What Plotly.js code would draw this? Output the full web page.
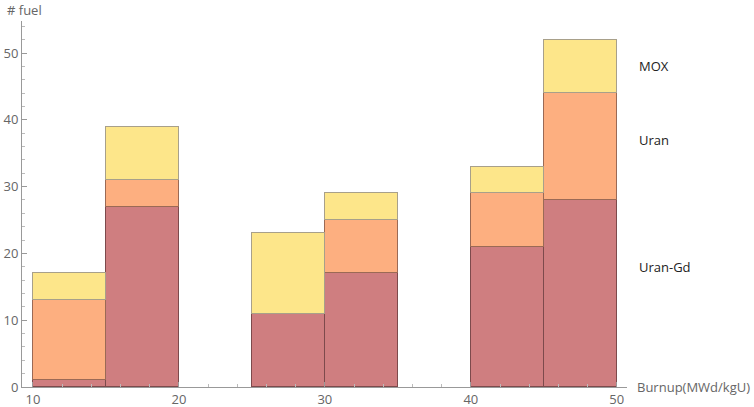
<!DOCTYPE html>
<html>
<head>
<meta charset="utf-8">
<script src="https://cdn.plot.ly/plotly-3.0.1.min.js"></script>
<style>html,body{margin:0;padding:0;background:#fff}</style>
</head>
<body>
<div id="chart" style="width:754px;height:407px"></div>
<script>
// bin centres (width 5), empty bins left out
const bins = [12.5, 17.5, 27.5, 32.5, 42.5, 47.5];
const uranGd = [1, 27, 11, 17, 21, 28];
const uran = [12, 4, 0, 8, 8, 16];
const mox = [4, 8, 12, 4, 4, 8];

const font = 'Open Sans, Noto Sans, sans-serif';

const bar = (y, fill, edge) => ({
    type: 'bar',
    x: bins,
    y: y,
    width: 5,
    marker: {color: fill, line: {color: edge, width: 1}},
    hoverinfo: 'x+y',
    showlegend: false,
});

const traces = [
    bar(uranGd, '#cf7e80', '#7d4a4c'),
    bar(uran, '#fdaf80', '#9b6a55'),
    bar(mox, '#fde68a', '#a8a08a'),
];

const layout = {
    barmode: 'stack',
    bargap: 0,
    margin: {l: 22, r: 127, t: 21, b: 20},
    paper_bgcolor: '#fff',
    plot_bgcolor: '#fff',
    font: {family: font, size: 13, color: '#555'},
    xaxis: {
        range: [9.25, 50.7],
        tickvals: [10, 20, 30, 40, 50],
        ticks: 'inside', ticklen: 5, tickcolor: '#999',
        minor: {dtick: 2, tick0: 10, ticks: 'inside', ticklen: 3, tickcolor: '#bbb'},
        showline: true, linecolor: '#999', linewidth: 1,
        showgrid: false, zeroline: false,
        tickfont: {size: 13, color: '#666'},
    },
    yaxis: {
        range: [0, 54.8],
        dtick: 10,
        ticks: 'inside', ticklen: 5, tickcolor: '#999',
        minor: {dtick: 2, ticks: 'inside', ticklen: 3, tickcolor: '#bbb'},
        showline: true, linecolor: '#999', linewidth: 1,
        showgrid: false, zeroline: false,
        tickfont: {size: 13, color: '#666'},
    },
    annotations: [
        {text: '# fuel', xref: 'paper', yref: 'paper', x: -0.028, y: 1.031,
         xanchor: 'left', yanchor: 'middle', showarrow: false, font: {size: 13, color: '#666'}},
        {text: 'Burnup(MWd/kgU)', xref: 'paper', yref: 'y', x: 1.014, y: 0,
         xanchor: 'left', yanchor: 'middle', showarrow: false, font: {size: 13, color: '#666'}},
        {text: 'MOX', xref: 'paper', yref: 'y', x: 1.016, y: 48,
         xanchor: 'left', yanchor: 'middle', showarrow: false, font: {size: 13, color: '#222'}},
        {text: 'Uran', xref: 'paper', yref: 'y', x: 1.016, y: 37,
         xanchor: 'left', yanchor: 'middle', showarrow: false, font: {size: 13, color: '#222'}},
        {text: 'Uran-Gd', xref: 'paper', yref: 'y', x: 1.016, y: 17.9,
         xanchor: 'left', yanchor: 'middle', showarrow: false, font: {size: 13, color: '#222'}},
    ],
};

Plotly.newPlot('chart', traces, layout, {displayModeBar: false});
</script>
</body>
</html>
